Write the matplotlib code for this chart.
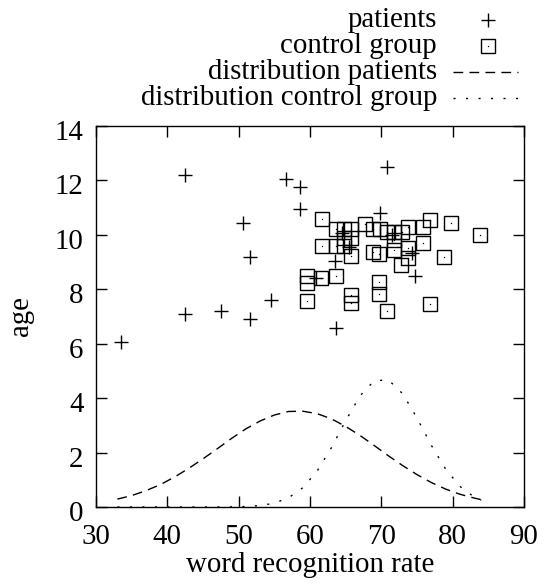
import matplotlib
matplotlib.use("Agg")
import matplotlib.pyplot as plt
from matplotlib.lines import Line2D
from matplotlib.transforms import ScaledTranslation

plt.rcParams['font.family'] = ['Liberation Serif', 'DejaVu Serif']
plt.rcParams['mathtext.fontset'] = 'stix'

# ---------------- data ----------------
patients_x = [33.5, 42.5, 42.5, 47.5, 50.6, 51.6, 51.6, 54.6, 56.6, 58.6, 58.6,
              60.9, 63.5, 63.7, 64.5, 65.4, 69.8, 70.8, 71.5, 74.3, 74.7]
patients_y = [6.07, 12.19, 7.10, 7.22, 10.42, 9.19, 6.92, 7.62, 12.05, 11.75, 10.96,
              8.40, 9.03, 6.57, 10.05, 9.55, 10.80, 12.50, 10.00, 9.34, 8.50]

control_x = [61.7, 61.7, 63.7, 64.8, 65.75, 64.8, 65.75, 64.8, 63.7, 65.75,
             67.7, 68.8, 69.8, 70.75, 71.8, 72.9, 73.8, 75.8, 76.8, 79.8, 83.8,
             68.8, 69.7, 71.8, 71.8, 73.8, 73.8, 72.8, 75.8, 78.8,
             59.6, 59.6, 61.6, 63.7, 59.6, 65.75, 65.75, 69.7, 69.7, 70.75, 76.8]
control_y = [10.60, 9.60, 10.20, 10.20, 10.20, 9.90, 9.90, 9.60, 9.60, 9.24,
             10.40, 10.20, 10.20, 10.10, 10.10, 10.10, 10.30, 10.30, 10.55, 10.45, 10.00,
             9.36, 9.30, 9.45, 9.80, 9.50, 9.15, 8.90, 9.70, 9.20,
             8.48, 8.24, 8.40, 8.48, 7.56, 7.80, 7.50, 8.26, 7.84, 7.22, 7.46]

curve_x = [33, 35, 37, 39, 41, 43, 45, 47, 49, 51, 53, 55, 57, 59, 61, 63, 65,
           67, 69, 71, 73, 75, 77, 79, 81, 83, 84]
dist_patients = [0.29, 0.42, 0.60, 0.82, 1.10, 1.42, 1.77, 2.14, 2.52, 2.87, 3.16,
                 3.38, 3.51, 3.52, 3.43, 3.24, 2.96, 2.63, 2.26, 1.88, 1.52, 1.19,
                 0.90, 0.66, 0.47, 0.33, 0.27]
dist_control = [0.0, 0.0, 0.0, 0.0, 0.0, 0.0, 0.0, 0.001, 0.005, 0.017, 0.053,
                0.14, 0.34, 0.71, 1.32, 2.18, 3.17, 4.08, 4.64, 4.67, 4.16, 3.27,
                2.27, 1.40, 0.76, 0.37, 0.24]

x_ticks = [30, 40, 50, 60, 70, 80, 90]
y_ticks = [0, 2, 4, 6, 8, 10, 12, 14]
legend_labels = ["patients", "control group", "distribution patients",
                 "distribution control group"]

# ---------------- figure ----------------
fig = plt.figure(figsize=(5.44, 5.86), dpi=100)
ax = fig.add_axes([96/544, 1-507/586, 428/544, 381/586])

fs = 20.8
lw = 1.0

ax.plot(patients_x, patients_y, linestyle='none', marker='+', ms=9.5,
        mew=lw, color='black', clip_on=False)
ax.plot(control_x, control_y, linestyle='none', marker='s', ms=10,
        mew=lw, mfc='none', mec='black', clip_on=False)
ax.plot(control_x, control_y, linestyle='none', marker='o', ms=1.0,
        mew=0, color='black')
ax.plot(curve_x, dist_patients, color='black', lw=lw, dashes=(7, 4.5))
ax.plot(curve_x, dist_control, color='black', lw=lw, dashes=(1.5, 7.5))

ax.set_xlim(30, 90)
ax.set_ylim(0, 14)
ax.set_xticks(x_ticks)
ax.set_yticks(y_ticks)
ax.tick_params(direction='in', length=8, width=1, top=True, right=True,
               labelsize=fs)
ax.tick_params(axis='x', pad=12)
ax.tick_params(axis='y', pad=9)
for s in ax.spines.values():
    s.set_linewidth(1.0)

shift = ScaledTranslation(0, -4 / 100, fig.dpi_scale_trans)
for lbl in ax.get_yticklabels():
    lbl.set_transform(lbl.get_transform() + shift)

ax.set_xlabel("word recognition rate", fontsize=fs)
ax.set_ylabel("age", fontsize=fs)
ax.xaxis.set_label_coords(0.5, -0.118)
ax.yaxis.set_label_coords(-0.145, 0.5)

# ---------------- legend (gnuplot style, outside top right) ----------------
row_y = [20, 46, 72, 98]
text_right = 437
for i, lab in enumerate(legend_labels):
    yy = 1 - row_y[i] / 586
    fig.text(text_right / 544, yy, lab, ha='right', va='center', fontsize=fs)

def fx(px):
    return px / 544

def fy(py):
    return 1 - py / 586

fig.add_artist(Line2D([fx(488)], [fy(row_y[0])], marker='+', ms=9.5, mew=lw,
                      color='black', linestyle='none'))
fig.add_artist(Line2D([fx(488)], [fy(row_y[1])], marker='s', ms=10, mew=lw,
                      mfc='none', mec='black', linestyle='none'))
fig.add_artist(Line2D([fx(488)], [fy(row_y[1])], marker='o', ms=1.0, mew=0,
                      color='black', linestyle='none'))
fig.add_artist(Line2D([fx(453), fx(518)], [fy(row_y[2])] * 2, color='black',
                      lw=lw, dashes=(7, 4.5)))
fig.add_artist(Line2D([fx(453), fx(518)], [fy(row_y[3])] * 2, color='black',
                      lw=lw, dashes=(1.5, 7.5)))

fig.savefig("out.png", dpi=100)
